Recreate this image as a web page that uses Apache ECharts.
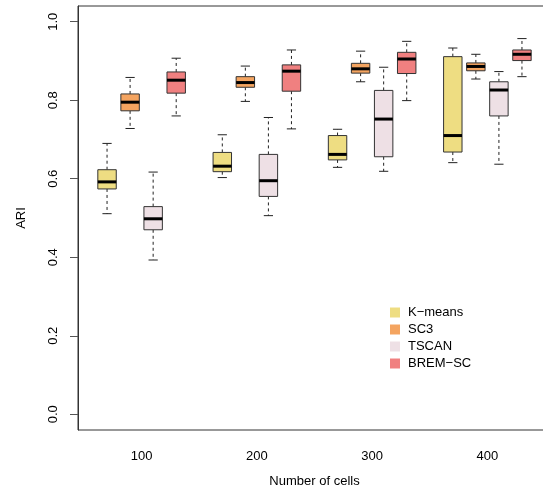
<!DOCTYPE html>
<html>
<head>
<meta charset="utf-8">
<script src="https://cdn.jsdelivr.net/npm/echarts@6/dist/echarts.min.js"></script>
<style>html,body{margin:0;padding:0;background:#fff}#c{width:543px;height:500px}</style>
</head>
<body>
<div id="c"></div>
<script>
// ---- data ----
const cellCounts = ['100', '200', '300', '400'];
const methods = ['K\u2212means', 'SC3', 'TSCAN', 'BREM\u2212SC'];
const methodColors = ['#EEDD82', '#F4A460', '#EEE0E5', '#F08080'];
const yTicks = [0, 0.2, 0.4, 0.6, 0.8, 1.0];
// each entry: [min, Q1, median, Q3, max]
const kmeansStats = [
  [0.511, 0.574, 0.592, 0.623, 0.690],
  [0.603, 0.618, 0.632, 0.667, 0.712],
  [0.629, 0.648, 0.662, 0.710, 0.726],
  [0.641, 0.668, 0.710, 0.911, 0.933]
];
const sc3Stats = [
  [0.728, 0.773, 0.795, 0.816, 0.858],
  [0.797, 0.833, 0.845, 0.860, 0.887],
  [0.847, 0.869, 0.880, 0.894, 0.925],
  [0.854, 0.875, 0.886, 0.895, 0.917]
];
const tscanStats = [
  [0.393, 0.470, 0.498, 0.529, 0.617],
  [0.506, 0.555, 0.595, 0.662, 0.756],
  [0.619, 0.656, 0.752, 0.825, 0.884],
  [0.637, 0.760, 0.826, 0.847, 0.873]
];
const bremStats = [
  [0.760, 0.818, 0.851, 0.872, 0.907],
  [0.727, 0.823, 0.874, 0.890, 0.928],
  [0.799, 0.868, 0.905, 0.922, 0.950],
  [0.860, 0.901, 0.917, 0.928, 0.957]
];
const allStats = [kmeansStats, sc3Stats, tscanStats, bremStats];

// slot positions: 4 boxes per group, one empty slot between groups
const groupCenters = cellCounts.map((c, g) => g * 5 + 1.5);

const FONT = '"Liberation Sans", Arial, Helvetica, sans-serif';

function renderBox(params, api) {
  const x = api.value(0);
  const vmin = api.value(1), q1 = api.value(2), med = api.value(3), q3 = api.value(4), vmax = api.value(5);
  const slot = api.size([1, 0])[0];
  const bw = slot * 0.8;
  const cw = bw * 0.5;
  const cx = api.coord([x, 0])[0];
  const yMin = api.coord([x, vmin])[1];
  const yQ1 = api.coord([x, q1])[1];
  const yMed = api.coord([x, med])[1];
  const yQ3 = api.coord([x, q3])[1];
  const yMax = api.coord([x, vmax])[1];
  const color = api.visual('color');
  const dash = { stroke: '#222', lineWidth: 1, lineDash: [3, 3] };
  const solid = { stroke: '#222', lineWidth: 1 };
  return {
    type: 'group',
    children: [
      { type: 'line', shape: { x1: cx, y1: yQ3, x2: cx, y2: yMax }, style: dash },
      { type: 'line', shape: { x1: cx, y1: yQ1, x2: cx, y2: yMin }, style: dash },
      { type: 'line', shape: { x1: cx - cw / 2, y1: yMax, x2: cx + cw / 2, y2: yMax }, style: solid },
      { type: 'line', shape: { x1: cx - cw / 2, y1: yMin, x2: cx + cw / 2, y2: yMin }, style: solid },
      { type: 'rect', shape: { x: cx - bw / 2, y: yQ3, width: bw, height: yQ1 - yQ3 },
        style: { fill: color, stroke: '#333', lineWidth: 1 } },
      { type: 'line', shape: { x1: cx - bw / 2, y1: yMed, x2: cx + bw / 2, y2: yMed },
        style: { stroke: '#000', lineWidth: 3 } }
    ]
  };
}

const series = methods.map((m, mi) => ({
  name: m,
  type: 'custom',
  renderItem: renderBox,
  itemStyle: { color: methodColors[mi] },
  encode: { x: 0, y: [1, 2, 3, 4, 5] },
  data: allStats[mi].map((s, g) => [g * 5 + mi].concat(s)),
  z: 3
}));

const chart = echarts.init(document.getElementById('c'), null, { renderer: 'canvas' });
chart.setOption({
  animation: false,
  backgroundColor: '#fff',
  textStyle: { fontFamily: FONT },
  grid: { left: 78, top: 6, width: 473, height: 424, outerBoundsMode: 'none', containLabel: false,
          show: true, borderColor: '#333', borderWidth: 1, backgroundColor: 'transparent' },
  legend: {
    orient: 'vertical',
    left: 385,
    top: 301,
    itemWidth: 10,
    itemHeight: 10,
    itemGap: 4,
    icon: 'rect',
    itemStyle: { borderWidth: 0 },
    textStyle: { fontFamily: FONT, fontSize: 13, color: '#000', padding: [0, 0, 0, 3] },
    data: methods
  },
  xAxis: {
    type: 'value',
    min: -1.26,
    max: 19.26,
    name: 'Number of cells',
    nameLocation: 'middle',
    nameGap: 45,
    nameTextStyle: { fontFamily: FONT, fontSize: 13, color: '#000' },
    splitLine: { show: false },
    axisLine: { show: false, onZero: false },
    axisTick: { show: false },
    axisLabel: {
      customValues: groupCenters,
      formatter: (v) => {
        const i = groupCenters.indexOf(v);
        return i >= 0 ? cellCounts[i] : '';
      },
      margin: 20,
      fontFamily: FONT, fontSize: 13, color: '#000'
    }
  },
  yAxis: {
    type: 'value',
    min: -0.04,
    max: 1.04,
    name: 'ARI',
    nameLocation: 'middle',
    nameRotate: 90,
    nameGap: 50,
    nameTextStyle: { fontFamily: FONT, fontSize: 13, color: '#000' },
    splitLine: { show: false },
    axisLine: { show: true, onZero: false, lineStyle: { color: '#333' } },
    axisTick: { show: true, length: 8, customValues: yTicks, lineStyle: { color: '#555' } },
    axisLabel: {
      customValues: yTicks,
      rotate: 90,
      margin: 18,
      formatter: (v) => v.toFixed(1),
      fontFamily: FONT, fontSize: 13, color: '#000'
    }
  },
  series: series
});
</script>
</body>
</html>
